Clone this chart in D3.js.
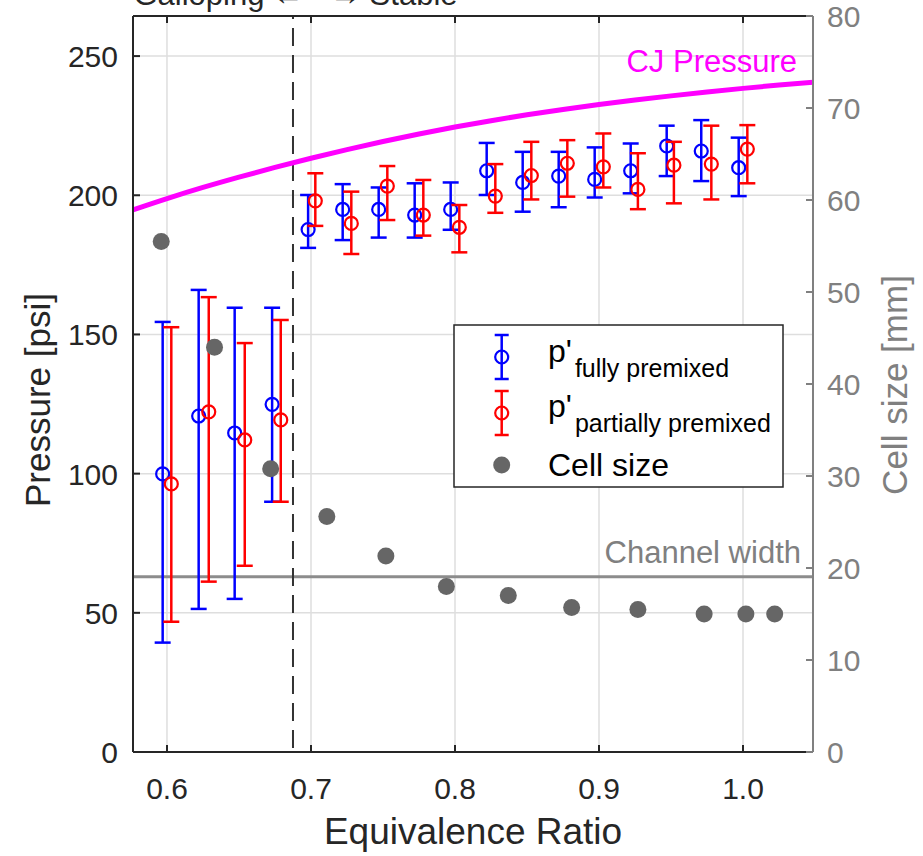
<!DOCTYPE html>
<html><head><meta charset="utf-8">
<script src="https://cdn.jsdelivr.net/npm/d3@7"></script>
<style>
html,body{margin:0;padding:0;background:#fff;}
svg{display:block;font-family:"Liberation Sans",Arial,Helvetica,sans-serif;}
</style></head>
<body><svg id="c" width="923" height="856"></svg>
<script>
// ---- data ----
const xTicks = [0.6, 0.7, 0.8, 0.9, 1.0];
const xTickLabels = ["0.6", "0.7", "0.8", "0.9", "1.0"];
const yLeftTicks = [0, 50, 100, 150, 200, 250];
const yRightTicks = [0, 10, 20, 30, 40, 50, 60, 70, 80];

const phiFully = [0.597,0.622,0.647,0.673,0.698,0.722,0.747,0.772,0.797,0.822,0.847,0.872,0.897,0.922,0.947,0.971,0.997];
const pFully   = [99.9,120.7,114.6,124.9,187.7,194.9,194.9,192.9,194.9,208.8,204.6,206.9,205.7,208.8,217.7,215.9,209.9];
const pFullyHi = [154.5,166.0,159.6,159.6,200.1,204.0,202.8,204.3,204.6,218.8,215.6,215.6,217.2,218.6,225.0,227.0,220.7];
const pFullyLo = [39.3,51.4,55.0,89.9,181.1,183.9,184.8,184.8,187.6,200.1,194.1,195.7,199.2,200.7,206.9,205.1,199.7];

const phiPartial = [0.603,0.629,0.654,0.679,0.703,0.728,0.753,0.778,0.803,0.828,0.853,0.878,0.903,0.927,0.952,0.978,1.003];
const pPartial   = [96.3,122.2,112.1,119.3,198.0,189.9,203.3,192.9,188.5,199.7,207.1,211.5,210.2,202.1,210.8,211.2,216.6];
const pPartialHi = [152.6,163.4,146.9,155.2,207.9,201.3,210.5,205.5,196.5,211.2,219.2,219.8,222.2,215.1,219.2,225.0,225.2];
const pPartialLo = [46.8,61.2,66.9,89.9,189.0,178.9,191.1,185.5,179.5,193.7,198.5,199.5,202.8,195.0,197.1,198.5,204.3];

const phiCell  = [0.596,0.633,0.672,0.711,0.752,0.794,0.837,0.881,0.927,0.973,1.002,1.022];
const cellSize = [55.5,44.0,30.8,25.6,21.3,18.0,17.0,15.7,15.5,15.0,15.0,15.0];

const phiCJ = [0.575,0.6,0.625,0.65,0.675,0.7,0.725,0.75,0.775,0.8,0.825,0.85,0.875,0.9,0.925,0.95,0.975,1.0,1.025,1.05];
const pCJ   = [194.5,198.8,202.8,206.5,210.0,213.3,216.4,219.3,222.0,224.5,226.8,228.9,230.8,232.6,234.2,235.7,237.1,238.4,239.6,240.7];

const channelWidth = 19.05;   // mm
const phiBoundary = 0.6875;

// ---- scales ----
const L = 133, R = 813, T = 16, B = 752;
const x = d3.scaleLinear().domain([0.5764, 1.0486]).range([L, R]);
const yL = d3.scaleLinear().domain([0, 264.4]).range([B, T]);
const yR = d3.scaleLinear().domain([0, 80]).range([B, T]);

const svg = d3.select("#c");
const axisCol = "#262626", rCol = "#808080", gridCol = "#dedede";

// grid
const g = svg.append("g");
g.selectAll(".vg").data(xTicks).join("line")
  .attr("x1", d => x(d)).attr("x2", d => x(d)).attr("y1", T).attr("y2", B)
  .attr("stroke", gridCol).attr("stroke-width", 1.5);
g.selectAll(".hg").data(yLeftTicks).join("line")
  .attr("x1", L).attr("x2", R).attr("y1", d => yL(d)).attr("y2", d => yL(d))
  .attr("stroke", gridCol).attr("stroke-width", 1.5);

// channel width line
svg.append("line").attr("x1", L).attr("x2", R)
  .attr("y1", yR(channelWidth)).attr("y2", yR(channelWidth))
  .attr("stroke", "#8c8c8c").attr("stroke-width", 3);
svg.append("text").attr("x", 801).attr("y", 563).attr("text-anchor", "end")
  .attr("font-size", 31).attr("fill", "#808080").text("Channel width");

// boundary dashed line
svg.append("line").attr("x1", x(phiBoundary)).attr("x2", x(phiBoundary))
  .attr("y1", T).attr("y2", B).attr("stroke", "#333").attr("stroke-width", 2)
  .attr("stroke-dasharray", "18,9").attr("stroke-dashoffset", -12);

// CJ curve
svg.append("clipPath").attr("id", "pc").append("rect")
  .attr("x", L).attr("y", T).attr("width", R - L).attr("height", B - T);
svg.append("path").attr("clip-path", "url(#pc)")
  .datum(phiCJ.map((p, i) => [p, pCJ[i]]))
  .attr("d", d3.line().x(d => x(d[0])).y(d => yL(d[1])).curve(d3.curveMonotoneX))
  .attr("fill", "none").attr("stroke", "#ff00ff").attr("stroke-width", 5);
svg.append("text").attr("x", 797).attr("y", 72).attr("text-anchor", "end")
  .attr("font-size", 31).attr("fill", "#ff00ff").text("CJ Pressure");

// error bars
function errSeries(phis, vals, his, los, col) {
  const gg = svg.append("g");
  const cap = 8;
  phis.forEach((p, i) => {
    const cx = x(p);
    gg.append("line").attr("x1", cx).attr("x2", cx).attr("y1", yL(his[i])).attr("y2", yL(los[i]))
      .attr("stroke", col).attr("stroke-width", 2.5);
    [his[i], los[i]].forEach(v => gg.append("line").attr("x1", cx - cap).attr("x2", cx + cap)
      .attr("y1", yL(v)).attr("y2", yL(v)).attr("stroke", col).attr("stroke-width", 2.5));
    gg.append("circle").attr("cx", cx).attr("cy", yL(vals[i])).attr("r", 6.5)
      .attr("fill", "none").attr("stroke", col).attr("stroke-width", 2.2);
  });
}
errSeries(phiFully, pFully, pFullyHi, pFullyLo, "#0000ff");
errSeries(phiPartial, pPartial, pPartialHi, pPartialLo, "#ff0000");

// cell size dots
svg.append("g").selectAll("circle").data(phiCell).join("circle")
  .attr("cx", d => x(d)).attr("cy", (d, i) => yR(cellSize[i])).attr("r", 8.5)
  .attr("fill", "#666666");

// axes
const ax = svg.append("g");
ax.append("line").attr("x1", L).attr("x2", R).attr("y1", T).attr("y2", T).attr("stroke", axisCol).attr("stroke-width", 2);
ax.append("line").attr("x1", L).attr("x2", R).attr("y1", B).attr("y2", B).attr("stroke", axisCol).attr("stroke-width", 2);
ax.append("line").attr("x1", L).attr("x2", L).attr("y1", T).attr("y2", B).attr("stroke", axisCol).attr("stroke-width", 2);
ax.append("line").attr("x1", R).attr("x2", R).attr("y1", T).attr("y2", B).attr("stroke", rCol).attr("stroke-width", 2);

const tl = 7;
xTicks.forEach((t, i) => {
  ax.append("line").attr("x1", x(t)).attr("x2", x(t)).attr("y1", B).attr("y2", B - tl).attr("stroke", axisCol).attr("stroke-width", 2);
  ax.append("line").attr("x1", x(t)).attr("x2", x(t)).attr("y1", T).attr("y2", T + tl).attr("stroke", axisCol).attr("stroke-width", 2);
  ax.append("text").attr("x", x(t)).attr("y", 799).attr("text-anchor", "middle")
    .attr("font-size", 30).attr("fill", axisCol).text(xTickLabels[i]);
});
yLeftTicks.forEach(t => {
  ax.append("line").attr("x1", L).attr("x2", L + tl).attr("y1", yL(t)).attr("y2", yL(t)).attr("stroke", axisCol).attr("stroke-width", 2);
  ax.append("text").attr("x", 118).attr("y", yL(t) + 11).attr("text-anchor", "end")
    .attr("font-size", 30).attr("fill", axisCol).text(t);
});
yRightTicks.forEach(t => {
  ax.append("line").attr("x1", R).attr("x2", R - tl).attr("y1", yR(t)).attr("y2", yR(t)).attr("stroke", rCol).attr("stroke-width", 2);
  ax.append("text").attr("x", 827).attr("y", yR(t) + 11).attr("text-anchor", "start")
    .attr("font-size", 30).attr("fill", rCol).text(t);
});

// axis labels
svg.append("text").attr("x", (L + R) / 2).attr("y", 844).attr("text-anchor", "middle")
  .attr("font-size", 37).attr("fill", axisCol).text("Equivalence Ratio");
svg.append("text").attr("transform", `translate(50,400) rotate(-90)`).attr("text-anchor", "middle")
  .attr("font-size", 35).attr("fill", axisCol).text("Pressure [psi]");
svg.append("text").attr("transform", `translate(907,385) rotate(-90)`).attr("text-anchor", "middle")
  .attr("font-size", 35).attr("fill", rCol).text("Cell size [mm]");

// top annotation (cut off at the top edge, as in the reference)
svg.append("text").attr("x", 304).attr("y", 5).attr("text-anchor", "end")
  .attr("font-size", 31).attr("fill", axisCol).text("Galloping \u2190");
svg.append("text").attr("x", 330).attr("y", 5).attr("text-anchor", "start")
  .attr("font-size", 31).attr("fill", axisCol).text("\u2192 Stable");

// legend
const lg = svg.append("g");
lg.append("rect").attr("x", 454).attr("y", 325).attr("width", 329).attr("height", 162)
  .attr("fill", "#fff").attr("stroke", axisCol).attr("stroke-width", 1.5);
const legendItems = [
  {col: "#0000ff", cy: 357, sub: "fully premixed", by: 362},
  {col: "#ff0000", cy: 413, sub: "partially premixed", by: 417}
];
legendItems.forEach(it => {
  const lx = 501.7;
  lg.append("line").attr("x1", lx).attr("x2", lx).attr("y1", it.cy - 22).attr("y2", it.cy + 22).attr("stroke", it.col).attr("stroke-width", 2.5);
  [it.cy - 22, it.cy + 22].forEach(v => lg.append("line").attr("x1", lx - 7).attr("x2", lx + 7).attr("y1", v).attr("y2", v).attr("stroke", it.col).attr("stroke-width", 2.5));
  lg.append("circle").attr("cx", lx).attr("cy", it.cy).attr("r", 6.5).attr("fill", "none").attr("stroke", it.col).attr("stroke-width", 2.2);
  const t = lg.append("text").attr("x", 548).attr("y", it.by).attr("font-size", 32).attr("fill", "#000");
  t.append("tspan").text("p'");
  t.append("tspan").attr("dy", 15).attr("dx", 3).attr("font-size", 25).text(it.sub);
});
lg.append("circle").attr("cx", 501.7).attr("cy", 465).attr("r", 8.5).attr("fill", "#666666");
lg.append("text").attr("x", 548).attr("y", 476).attr("font-size", 32).attr("fill", "#000").text("Cell size");
</script></body></html>
